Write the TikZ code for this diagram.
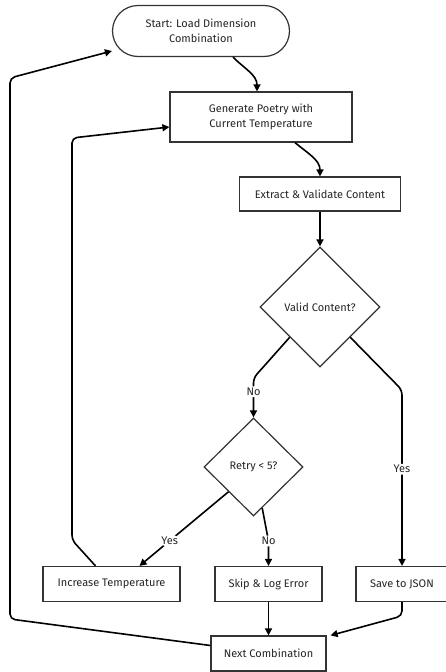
\documentclass[tikz,border=0pt]{standalone}
\usepackage{fontspec}
\setmainfont{Fira Sans}
\usetikzlibrary{arrows.meta,shapes.geometric,shapes.misc}
\begin{document}
\begin{tikzpicture}[
      x=1pt, y=-1pt,
      box/.style={draw=black!80, line width=1.2pt, fill=white, inner sep=0pt,
                  font=\fontsize{11}{14.5}\selectfont, align=center, text=black!85},
      term/.style={box, rounded rectangle},
      test/.style={box, diamond, aspect=1},
      flow/.style={draw=black, line width=1.6pt, rounded corners=5pt,
                   -{Triangle[length=7pt,width=7pt]}},
      lbl/.style={fill=white, inner sep=1.5pt, text=black!85,
                  font=\fontsize{11}{13}\selectfont}
    ]
  \useasboundingbox (0,0) rectangle (446,672);
  % nodes
  \node[term, minimum width=177pt, minimum height=51pt] (start) at (201,31) {Start: Load Dimension\\Combination};
  \node[box, minimum width=182pt, minimum height=50pt] (gen) at (261,117) {Generate Poetry with\\Current Temperature};
  \node[box, minimum width=161pt, minimum height=34pt] (extract) at (320,194) {Extract \& Validate Content};
  \node[test, minimum width=120pt, minimum height=120pt] (valid) at (320,307) {Valid Content?};
  \node[test, minimum width=99pt, minimum height=98pt] (retry) at (253.5,467) {Retry < 5?};
  \node[box, minimum width=137pt, minimum height=35pt] (inc) at (111.5,584) {Increase Temperature};
  \node[box, minimum width=107pt, minimum height=35pt] (skip) at (268.5,584) {Skip \& Log Error};
  \node[box, minimum width=92pt, minimum height=35pt] (save) at (402,584) {Save to JSON};
  \node[box, minimum width=115pt, minimum height=35pt] (next) at (268.5,653.5) {Next Combination};
  % connectors
  \draw[flow] ([xshift=32pt]start.south) to[out=-45,in=90] ([xshift=-4pt]gen.north);
  \draw[flow] ([xshift=34pt]gen.south) to[out=-40,in=90] (extract.north);
  \draw[flow] (extract) -- (valid);
  \draw[flow] (valid.south west) -- (retry.north |- 0,378) -- node[lbl, pos=0.35] {No} (retry.north);
  \draw[flow] (valid.south east) -- (save.north |- 0,390) -- node[lbl, pos=0.45] {Yes} (save.north);
  \draw[flow] (retry.south west) -- node[lbl, pos=0.66] {Yes} ([xshift=28pt]inc.north);
  \draw[flow] (retry.-78) -- (skip.north |- 0,541) node[lbl] {No} -- (skip.north);
  \draw[flow] (skip) -- (next);
  \draw[flow] (save.south) -- (save.south |- 0,616) -- ([xshift=4pt]next.north east);
  \draw[flow] ([yshift=8pt]next.west) -- (10,619) -- (10,78) -- ([yshift=-20pt]start.west);
  \draw[flow] ([xshift=-16pt]inc.north) -- (72,540) -- (72,138) -- ([yshift=-10pt]gen.west);
\end{tikzpicture}
\end{document}
